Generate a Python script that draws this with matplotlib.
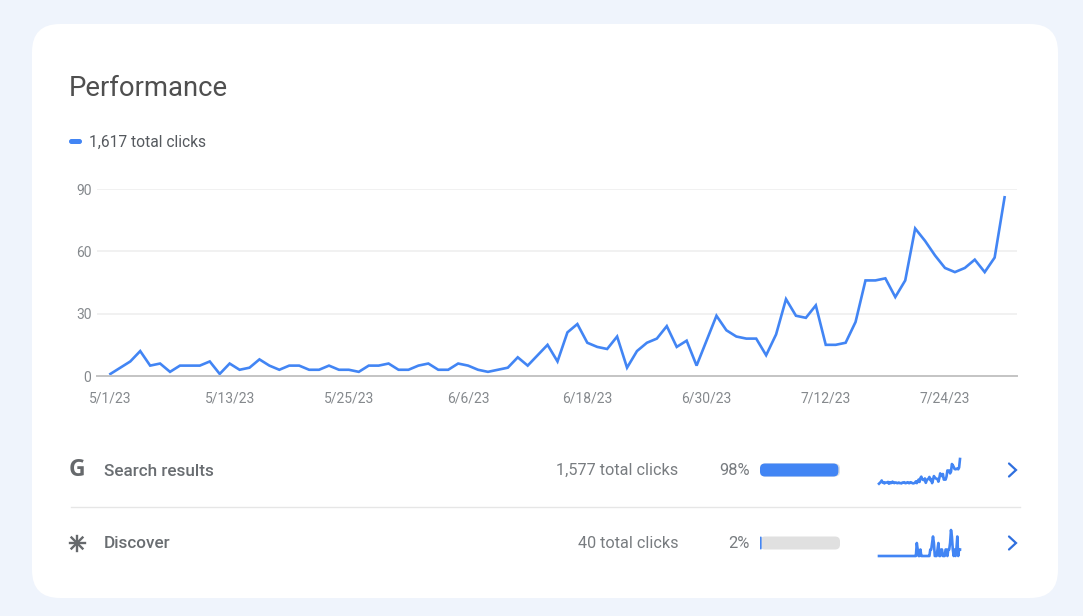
import matplotlib
matplotlib.use("Agg")
import matplotlib.pyplot as plt
import pandas as pd
from matplotlib.patches import FancyBboxPatch

plt.rcParams["font.family"] = ["Roboto", "DejaVu Sans"]

W, H = 1083, 616
BLUE = "#4285f4"

total_clicks = [1, 4, 7, 12, 5, 6, 2, 5, 5, 5, 7, 1, 6, 3, 4, 8, 5, 3, 5, 5,
                3, 3, 5, 3, 3, 2, 5, 5, 6, 3, 3, 5, 6, 3, 3, 6, 5, 3, 2, 3,
                4, 9, 5, 10, 15, 7, 21, 25, 16, 14, 13, 19, 4, 12, 16, 18, 24, 14, 17, 5,
                17, 29, 22, 19, 18, 18, 10, 20, 37, 29, 28, 34, 15, 15, 16, 26, 46, 46, 47, 38,
                46, 71, 65, 58, 52, 50, 52, 56, 50, 57, 86]
search_clicks = [1, 4, 7, 12, 5, 6, 2, 5, 5, 5, 7, 1, 6, 3, 4, 8, 5, 3, 5, 5,
                 3, 3, 5, 3, 3, 2, 5, 5, 6, 3, 3, 5, 6, 3, 3, 6, 5, 3, 2, 3,
                 4, 9, 3, 9, 15, 7, 20, 25, 16, 14, 13, 19, 4, 12, 16, 18, 24, 13, 17, 3,
                 14, 27, 22, 19, 18, 17, 8, 20, 36, 28, 27, 34, 15, 15, 15, 25, 46, 45, 46, 36,
                 42, 68, 64, 58, 51, 50, 51, 53, 50, 56, 85]
discover_clicks = [0, 0, 0, 0, 0, 0, 0, 0, 0, 0, 0, 0, 0, 0, 0, 0, 0, 0, 0, 0,
                   0, 0, 0, 0, 0, 0, 0, 0, 0, 0, 0, 0, 0, 0, 0, 0, 0, 0, 0, 0,
                   0, 0, 2, 1, 0, 0, 1, 0, 0, 0, 0, 0, 0, 0, 0, 0, 0, 1, 1, 2,
                   3, 2, 0, 0, 0, 1, 2, 0, 0, 1, 1, 0, 0, 0, 1, 1, 0, 1, 1, 2,
                   4, 3, 1, 0, 1, 0, 1, 3, 0, 1, 1]
dates = pd.date_range("2023-05-01", periods=len(total_clicks), freq="D")

tick_dates = pd.to_datetime(["2023-05-01", "2023-05-13", "2023-05-25", "2023-06-06",
                             "2023-06-18", "2023-06-30", "2023-07-12", "2023-07-24"])
tick_labels = ["5/1/23", "5/13/23", "5/25/23", "6/6/23", "6/18/23", "6/30/23", "7/12/23", "7/24/23"]
y_ticks = [0, 30, 60, 90]

sources = ["Search results", "Discover"]
source_clicks = ["1,577 total clicks", "40 total clicks"]
source_share = [98, 2]


def px_axes(fig, left, top, right, bottom):
    return fig.add_axes([left / W, 1 - bottom / H, (right - left) / W, (bottom - top) / H])


fig = plt.figure(figsize=(W / 100, H / 100), dpi=100, facecolor="#eff4fc")

# page layer in pixel coordinates
bg = fig.add_axes([0, 0, 1, 1])
bg.set_xlim(0, W)
bg.set_ylim(H, 0)
bg.axis("off")
bg.add_patch(FancyBboxPatch((32, 24), 1026, 574, boxstyle="round,pad=0,rounding_size=28",
                            fc="white", ec="none"))
bg.text(69, 88.5, "Performance", fontsize=19.8, color="#4f4f4f", va="center")
bg.add_patch(FancyBboxPatch((69, 139), 13, 5, boxstyle="round,pad=0,rounding_size=2.5",
                            fc=BLUE, ec="none"))
bg.text(89, 142, "1,617 total clicks", fontsize=11.2, color="#55595e", va="center")

# source rows
row_y = [470, 543]
for y, name, clicks, share in zip(row_y, sources, source_clicks, source_share):
    bg.text(104, y + 1, name, fontsize=12.3, color="#696d71", va="center", fontweight="medium")
    bg.text(678, y + 0.5, clicks, fontsize=11.7, color="#787c80", va="center", ha="right")
    bg.text(750, y + 0.5, f"{share}%", fontsize=11.9, color="#787c80", va="center", ha="right")
    bg.add_patch(FancyBboxPatch((760, y - 6.5), 80, 13, boxstyle="round,pad=0,rounding_size=5",
                                fc="#e0e0e0", ec="none"))
    bar = FancyBboxPatch((760, y - 6.5), 80 * share / 100, 13,
                         boxstyle="round,pad=0,rounding_size=%g" % min(5, 80 * share / 200),
                         fc=BLUE, ec="none")
    bg.add_patch(bar)
    bg.plot([1009, 1016, 1009], [y - 6.5, y, y + 6.5], color="#2f6fde", lw=1.6,
            solid_joinstyle="miter", solid_capstyle="round")
bg.plot([71, 1020], [506.5, 506.5], color="#e6e6e6", lw=1)

# row icons
bg.text(77, 470.5, "G", fontsize=16.5, color="#66696c", va="center", ha="center",
        fontweight="bold", family="Open Sans")
for dx, dy in [(7.5, 0), (0, 7.5), (5.5, 5.5), (5.5, -5.5)]:
    bg.plot([77 - dx, 77 + dx], [543 - dy, 543 + dy], color="#66696c", lw=1.7)

# main chart
ax = px_axes(fig, 97, 189, 1017, 376)
ax.patch.set_alpha(0)
ax.plot(dates, total_clicks, color=BLUE, lw=1.9, clip_on=False, solid_joinstyle="miter")
ax.set_ylim(0, 90)
ax.set_xlim(dates[0] - pd.Timedelta(days=1.35), dates[-1] + pd.Timedelta(days=1.25))
ax.set_yticks(y_ticks)
ax.set_xticks(tick_dates)
ax.set_xticklabels(tick_labels)
ax.grid(axis="y", color="#efefef", lw=1.2)
ax.set_axisbelow(True)
ax.tick_params(length=0, labelsize=10, labelcolor="#85898d")
ax.tick_params(axis="y", pad=4)
ax.tick_params(axis="x", pad=11)
for name in ["top", "left", "right"]:
    ax.spines[name].set_visible(False)
ax.spines["bottom"].set_color("#c4c4c4")
ax.spines["bottom"].set_linewidth(1.4)

# sparklines
for series, top, bottom in [(search_clicks, 459, 484), (discover_clicks, 530, 556)]:
    sp = px_axes(fig, 879, top, 960, bottom)
    sp.plot(dates, series, color=BLUE, lw=1.9, clip_on=False)
    sp.set_xlim(dates[0], dates[-1])
    sp.set_ylim(0, max(series))
    sp.axis("off")

fig.savefig("out.png", dpi=100, facecolor=fig.get_facecolor())
